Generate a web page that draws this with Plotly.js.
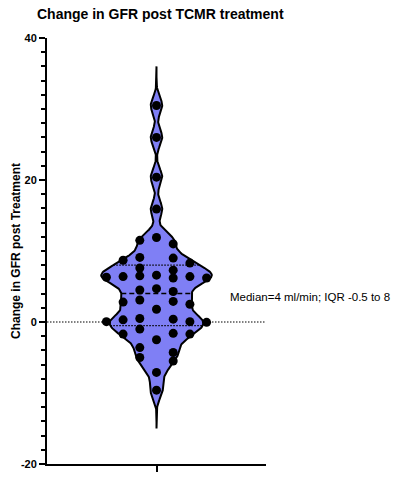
<!DOCTYPE html>
<html>
<head>
<meta charset="utf-8">
<script src="https://cdn.plot.ly/plotly-3.0.1.min.js"></script>
<style>html,body{margin:0;padding:0;background:#fff}#chart{width:393px;height:488px}</style>
</head>
<body>
<div id="chart"></div>
<script>
// ---- data ----
const categoryName = "Change in GFR post Treatment";
const gfrChange = [30.5, 26.0, 20.4, 15.9, 11.9, 11.5, 11.0, 9.1, 9.0, 8.7, 8.3, 7.6, 7.3, 6.6, 6.5, 6.4, 6.4, 6.3, 6.2, 6.2,
  4.7, 4.5, 4.3, 3.1, 2.9, 2.8, 2.5, 1.8, 0.5, 0.4, 0.3, 0.05, 0.05, -0.05, -1.0, -1.6, -1.7, -1.7, -2.5, -3.6,
  -4.3, -5.0, -5.5, -7.1, -9.6];
const medianValue = 4;
const q1Value = -0.5;
const q3Value = 8;
const yTickVals = [-20, 0, 20, 40];
const yTickText = ["-20", "0", "20", "40"];

// ---- violin outline (Gaussian KDE) ----
const bw = 1.15, spanLo = -15, spanHi = 36, halfMax = 0.505, stepY = 0.1;
function dens(y) { let s = 0; for (const v of gfrChange) { const z = (y - v) / bw; s += Math.exp(-0.5 * z * z); } return s; }
const ys = []; for (let y = spanLo; y <= spanHi + 1e-9; y += stepY) ys.push(+y.toFixed(3));
const ds = ys.map(dens);
const maxD = Math.max(...ds);
const half = y => dens(y) / maxD * halfMax;
const vx = ys.map((y, i) => ds[i] / maxD * halfMax).concat(ys.slice().reverse().map((y, i) => -ds[ds.length - 1 - i] / maxD * halfMax));
const vy = ys.concat(ys.slice().reverse());
vx.push(vx[0]); vy.push(vy[0]);

// ---- beeswarm placement of points (rows, then greedy columns) ----
const colStep = 0.1525, collide = 1.05, rowH = 1.0;
const order = gfrChange.map((v, i) => i).sort((a, b) => gfrChange[b] - gfrChange[a]);
const rows = [];
for (const i of order) {
  const last = rows[rows.length - 1];
  if (last && gfrChange[last[0]] - gfrChange[i] < rowH) last.push(i); else rows.push([i]);
}
const cols = {};
const px = new Array(gfrChange.length), py = new Array(gfrChange.length);
const oddCand = [0, -1, 1, -2, 2, -3, 3, -4, 4, -5, 5];
const evenCand = [-1, 1, -2, 2, -3, 3, 0, -4, 4, -5, 5];
for (const row of rows) {
  const cand = row.length % 2 ? oddCand : evenCand;
  const used = new Set();
  for (const i of row) {
    const v = gfrChange[i];
    for (const c of cand) {
      if (used.has(c)) continue;
      const list = cols[c] || (cols[c] = []);
      if (list.every(u => Math.abs(u - v) >= collide)) { list.push(v); used.add(c); px[i] = c * colStep; py[i] = v; break; }
    }
  }
}

const traces = [
  { type: 'scatter', mode: 'lines', x: vx, y: vy, fill: 'toself', fillcolor: '#7f7ff5',
    line: { color: '#000', width: 2 }, hoverinfo: 'skip', showlegend: false, name: categoryName },
  { type: 'scatter', mode: 'lines', x: [-half(medianValue), half(medianValue)], y: [medianValue, medianValue],
    line: { color: '#000', width: 1.5, dash: '5px,3px' }, showlegend: false, hoverinfo: 'skip' },
  { type: 'scatter', mode: 'lines', x: [-half(q1Value), half(q1Value)], y: [q1Value, q1Value],
    line: { color: '#000', width: 1.3, dash: '1.5px,1.5px' }, showlegend: false, hoverinfo: 'skip' },
  { type: 'scatter', mode: 'lines', x: [-half(q3Value), half(q3Value)], y: [q3Value, q3Value],
    line: { color: '#000', width: 1.3, dash: '1.5px,1.5px' }, showlegend: false, hoverinfo: 'skip' },
  { type: 'scatter', mode: 'markers', x: px, y: py, marker: { color: '#000', size: 9 },
    showlegend: false, cliponaxis: false, name: categoryName }
];

const font = "'Liberation Sans', Arial, Helvetica, sans-serif";
const layout = {
  width: 393, height: 488,
  margin: { l: 47, r: 127, t: 38, b: 24 },
  paper_bgcolor: '#fff', plot_bgcolor: '#fff',
  font: { family: font, color: '#000' },
  showlegend: false,
  title: { text: '<b>Change in GFR post TCMR treatment</b>', font: { size: 14, family: font, color: '#000' },
    x: 37 / 393, xanchor: 'left', y: 1 - 14 / 488, yanchor: 'middle' },
  xaxis: { range: [-1, 1], showline: true, linewidth: 2, linecolor: '#000', showgrid: false, zeroline: false,
    ticks: 'outside', tickvals: [0], ticktext: [''], ticklen: 6, tickwidth: 2, tickcolor: '#000', fixedrange: true },
  yaxis: { range: [-20, 40], showline: true, linewidth: 2, linecolor: '#000', showgrid: false, zeroline: false,
    ticks: 'outside', tickvals: yTickVals, ticktext: yTickText, ticklen: 6, tickwidth: 2, tickcolor: '#000',
    tickfont: { size: 11, weight: 'bold', family: font, color: '#000' },
    minor: { dtick: 2, tick0: 0, ticks: 'outside', ticklen: 4, tickwidth: 2, tickcolor: '#000', showgrid: false },
    fixedrange: true },
  shapes: [{ type: 'line', xref: 'paper', x0: 0, x1: 1, yref: 'y', y0: 0, y1: 0, layer: 'below',
    line: { color: '#000', width: 1.2, dash: '1.5px,1.5px' } }],
  annotations: [
    { xref: 'x', yref: 'y', x: 0.653, y: 3.5, xanchor: 'left', yanchor: 'middle', showarrow: false,
      text: 'Median=' + medianValue + ' ml/min; IQR ' + q1Value + ' to ' + q3Value, font: { size: 11.5, family: font, color: '#000' } },
    { xref: 'paper', yref: 'paper', x: (16 - 47) / 219, y: 0.5, xanchor: 'center', yanchor: 'middle', showarrow: false,
      textangle: -90, text: '<b>' + categoryName + '</b>', font: { size: 12, family: font, color: '#000' } }
  ]
};
Plotly.newPlot('chart', traces, layout, { displayModeBar: false, staticPlot: true });
</script>
</body>
</html>
